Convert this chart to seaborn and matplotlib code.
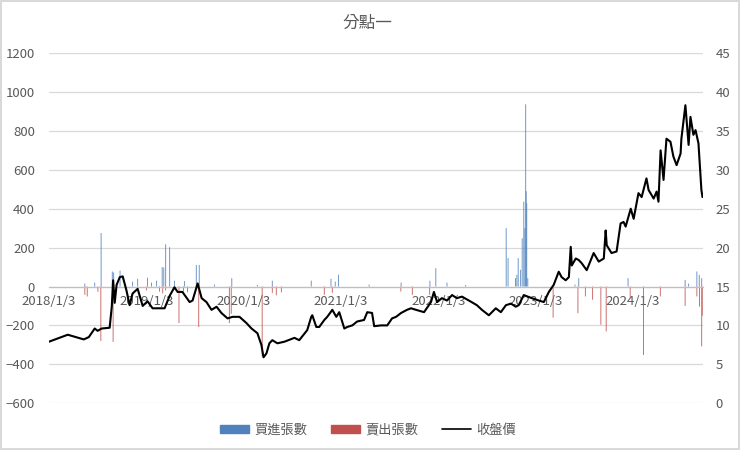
#!/usr/bin/env python3
"""分點一 — 買賣張數與收盤價"""

import matplotlib
matplotlib.use("Agg")
import matplotlib.pyplot as plt
import matplotlib.patches as mpatches
import matplotlib.lines as mlines
import pandas as pd
import seaborn as sns

# 收盤價
close_dates = [
    "2018-01-03", "2018-03-15", "2018-05-14", "2018-06-02", "2018-06-24", "2018-07-05",
    "2018-07-20", "2018-08-19", "2018-08-27", "2018-09-01", "2018-09-07", "2018-09-14",
    "2018-09-26", "2018-10-07", "2018-10-21", "2018-11-02", "2018-11-13", "2018-12-02",
    "2018-12-21", "2019-01-08", "2019-01-27", "2019-02-22", "2019-03-13", "2019-04-01",
    "2019-04-19", "2019-05-01", "2019-05-19", "2019-06-15", "2019-06-26", "2019-07-15",
    "2019-07-30", "2019-08-17", "2019-09-05", "2019-09-24", "2019-10-12", "2019-11-04",
    "2019-11-23", "2019-12-19", "2020-01-14", "2020-02-02", "2020-02-24", "2020-03-10",
    "2020-03-18", "2020-03-29", "2020-04-09", "2020-04-20", "2020-05-09", "2020-06-04",
    "2020-07-12", "2020-07-30", "2020-08-29", "2020-09-13", "2020-09-17", "2020-10-02",
    "2020-10-13", "2020-11-01", "2020-11-12", "2020-12-01", "2020-12-16", "2020-12-27",
    "2021-01-15", "2021-01-26", "2021-02-14", "2021-03-04", "2021-03-30", "2021-04-11",
    "2021-04-29", "2021-05-07", "2021-06-02", "2021-06-25", "2021-07-13", "2021-07-28",
    "2021-08-16", "2021-09-07", "2021-09-22", "2021-10-11", "2021-11-10", "2021-12-06",
    "2021-12-17", "2021-12-29", "2022-01-16", "2022-02-04", "2022-02-23", "2022-03-13",
    "2022-04-01", "2022-04-27", "2022-05-27", "2022-06-15", "2022-07-11", "2022-08-06",
    "2022-08-25", "2022-09-13", "2022-10-02", "2022-10-20", "2022-10-31", "2022-11-19",
    "2022-12-19", "2023-01-14", "2023-02-02", "2023-02-21", "2023-03-11", "2023-03-30",
    "2023-04-10", "2023-04-25", "2023-05-07", "2023-05-14", "2023-05-18", "2023-06-02",
    "2023-06-13", "2023-06-24", "2023-07-13", "2023-08-08", "2023-08-27", "2023-09-15",
    "2023-09-22", "2023-09-26", "2023-10-14", "2023-11-02", "2023-11-17", "2023-11-28",
    "2023-12-06", "2023-12-25", "2024-01-05", "2024-01-23", "2024-02-04", "2024-02-22",
    "2024-03-01", "2024-03-20", "2024-03-31", "2024-04-07", "2024-04-15", "2024-04-26",
    "2024-05-07", "2024-05-22", "2024-06-02", "2024-06-14", "2024-06-29", "2024-07-02",
    "2024-07-17", "2024-07-29", "2024-08-05", "2024-08-16", "2024-08-24", "2024-09-04",
    "2024-09-12", "2024-09-15", "2024-09-19",
]
close_prices = [
    7.9, 8.8, 8.2, 8.5, 9.6, 9.3,
    9.6, 9.7, 12.4, 15.8, 12.9, 15.2,
    16.2, 16.3, 14.5, 12.6, 14.1, 14.7,
    12.5, 13.1, 12.2, 12.2, 12.2, 13.8,
    14.9, 14.3, 14.3, 13.0, 13.2, 15.4,
    13.5, 13.0, 12.0, 12.4, 11.6, 10.9,
    11.1, 11.1, 10.3, 9.6, 9.0, 7.5,
    5.9, 6.4, 7.7, 8.1, 7.7, 7.9,
    8.4, 8.1, 9.4, 11.1, 11.3, 9.8,
    9.8, 10.7, 11.1, 12.0, 11.1, 11.7,
    9.6, 9.8, 10.0, 10.5, 10.7, 11.7,
    11.6, 9.9, 10.0, 10.0, 10.9, 11.1,
    11.6, 12.0, 12.2, 12.0, 11.7, 13.0,
    14.3, 13.0, 13.5, 13.2, 13.9, 13.5,
    13.7, 13.2, 12.6, 12.0, 11.3, 12.2,
    11.7, 12.6, 12.8, 12.4, 12.6, 13.9,
    13.5, 13.2, 13.0, 14.3, 15.2, 16.9,
    16.2, 15.8, 16.2, 20.1, 17.7, 18.6,
    18.4, 18.0, 17.1, 19.3, 18.2, 18.6,
    22.2, 20.3, 19.3, 19.5, 23.1, 23.3,
    22.7, 25.0, 23.7, 27.0, 26.5, 28.9,
    27.4, 26.3, 27.2, 25.9, 32.5, 28.7,
    34.0, 33.6, 31.7, 30.6, 32.1, 34.0,
    38.3, 33.2, 36.8, 34.5, 35.1, 33.4,
    28.9, 27.4, 26.5,
]

# 買進張數
buy_dates = [
    "2018-05-18", "2018-06-24", "2018-07-18", "2018-08-29", "2018-09-03", "2018-09-27",
    "2018-11-13", "2018-12-02", "2019-01-08", "2019-01-23", "2019-02-11", "2019-03-04",
    "2019-03-10", "2019-03-17", "2019-04-01", "2019-04-19", "2019-05-27", "2019-07-10",
    "2019-07-21", "2019-09-16", "2019-11-20", "2020-02-24", "2020-04-20", "2020-09-13",
    "2020-11-26", "2020-12-12", "2020-12-24", "2021-04-18", "2021-08-16", "2021-12-02",
    "2021-12-24", "2022-02-04", "2022-04-15", "2022-09-14", "2022-09-21", "2022-10-19",
    "2022-10-24", "2022-10-29", "2022-11-07", "2022-11-13", "2022-11-19", "2022-11-23",
    "2022-11-26", "2022-11-28", "2022-11-30", "2022-12-04", "2023-05-30", "2023-06-13",
    "2023-12-15", "2024-07-16", "2024-07-29", "2024-08-29", "2024-09-07", "2024-09-16",
]
buy_qty = [
    15, 20, 275, 77, 72, 82,
    25, 40, 45, 20, 30, 100,
    97, 217, 202, 30, 28, 111,
    111, 10, 43, 8, 30, 30,
    40, 25, 60, 10, 20, 30,
    94, 20, 8, 300, 146, 43,
    60, 146, 86, 248, 436, 300,
    937, 490, 428, 43, 10, 43,
    43, 34, 15, 77, 60, 43,
]

# 賣出張數
sell_dates = [
    "2018-05-18", "2018-05-27", "2018-07-06", "2018-07-17", "2018-09-01", "2019-01-04",
    "2019-02-22", "2019-03-06", "2019-03-17", "2019-05-06", "2019-05-23", "2019-06-07",
    "2019-07-19", "2019-11-11", "2019-11-18", "2020-03-13", "2020-04-20", "2020-05-05",
    "2020-05-24", "2020-11-01", "2020-12-01", "2021-08-15", "2021-09-27", "2021-12-01",
    "2023-03-09", "2023-06-10", "2023-07-08", "2023-08-04", "2023-09-04", "2023-09-24",
    "2023-12-23", "2024-02-11", "2024-04-14", "2024-07-16", "2024-08-29", "2024-09-08",
    "2024-09-16", "2024-09-20",
]
sell_qty = [
    -43, -51, -27, -280, -285, -20,
    -26, -35, -20, -188, -25, -30,
    -208, -188, -140, -360, -33, -45,
    -30, -43, -33, -26, -43, -43,
    -160, -137, -51, -68, -197, -231,
    -60, -352, -51, -100, -51, -103,
    -308, -150,
]

tick_dates = ["2018-01-03", "2019-01-03", "2020-01-03", "2021-01-03",
              "2022-01-03", "2023-01-03", "2024-01-03"]

BLUE = "#4F81BD"
RED = "#C0504D"
GRAY = "#595959"
GRID = "#D9D9D9"

sns.set_theme(style="white")
plt.rcParams["font.family"] = ["Noto Sans CJK TC", "DejaVu Sans"]

price = pd.DataFrame({"date": pd.to_datetime(close_dates), "close": close_prices})
buys = pd.DataFrame({"date": pd.to_datetime(buy_dates), "qty": buy_qty})
sells = pd.DataFrame({"date": pd.to_datetime(sell_dates), "qty": sell_qty})

fig = plt.figure(figsize=(7.4, 4.5), dpi=100)
fig.patch.set_edgecolor(GRID)
fig.patch.set_linewidth(1.5)
ax = fig.add_axes([0.066, 0.104, 0.884, 0.778])

# 細長柱子: snap 關掉, 不然次像素寬度的柱子會消失
ax.bar(buys["date"], buys["qty"], width=3.5, color=BLUE, linewidth=0, snap=False, alpha=0.85)
ax.bar(sells["date"], sells["qty"], width=3.5, color=RED, linewidth=0, snap=False, alpha=0.85)

ax.set_ylim(-600, 1200)
ax.set_yticks(range(-600, 1201, 200))
ax.set_xlim(pd.Timestamp("2018-01-03"), pd.Timestamp("2024-09-21"))
ticks = pd.to_datetime(tick_dates)
ax.set_xticks(ticks)
ax.set_xticklabels([f"{d.year}/{d.month}/{d.day}" for d in ticks])
ax.grid(axis="y", color=GRID, linewidth=0.9)
ax.grid(axis="x", visible=False)
ax.set_axisbelow(True)
for side in ("left", "right", "top"):
    ax.spines[side].set_visible(False)
ax.spines["bottom"].set_position(("data", 0))
ax.spines["bottom"].set_color("#BFBFBF")
ax.spines["bottom"].set_linewidth(0.9)
ax.tick_params(axis="x", colors=GRAY, labelsize=9.5, length=3, width=0.8,
               direction="out", pad=3, color="#BFBFBF")
ax.tick_params(axis="y", colors=GRAY, labelsize=9.5, length=0, pad=10)
ax.set_xlabel("")
ax.set_ylabel("")

ax2 = ax.twinx()
sns.lineplot(data=price, x="date", y="close", ax=ax2, color="black",
             linewidth=1.5, estimator=None)
ax2.set_ylim(0, 45)
ax2.set_yticks(range(0, 46, 5))
ax2.grid(False)
for side in ("left", "right", "top", "bottom"):
    ax2.spines[side].set_visible(False)
ax2.tick_params(axis="y", colors=GRAY, labelsize=9.5, length=0, pad=9)
ax2.set_xlabel("")
ax2.set_ylabel("")
ax2.set_xlim(pd.Timestamp("2018-01-03"), pd.Timestamp("2024-09-21"))

fig.text(0.497, 0.949, "分點一", ha="center", va="center", fontsize=12, color=GRAY)

handles = [
    mpatches.Patch(color=BLUE, label="買進張數"),
    mpatches.Patch(color=RED, label="賣出張數"),
    mlines.Line2D([], [], color="black", linewidth=1.2, label="收盤價"),
]
leg = fig.legend(handles=handles, loc="center", bbox_to_anchor=(0.497, 0.044), ncol=3,
                 frameon=False, fontsize=9.5, handlelength=2.2, handleheight=0.6,
                 columnspacing=1.8, handletextpad=0.4)
for t in leg.get_texts():
    t.set_color(GRAY)

fig.savefig("out.png", dpi=100)
plt.close(fig)
